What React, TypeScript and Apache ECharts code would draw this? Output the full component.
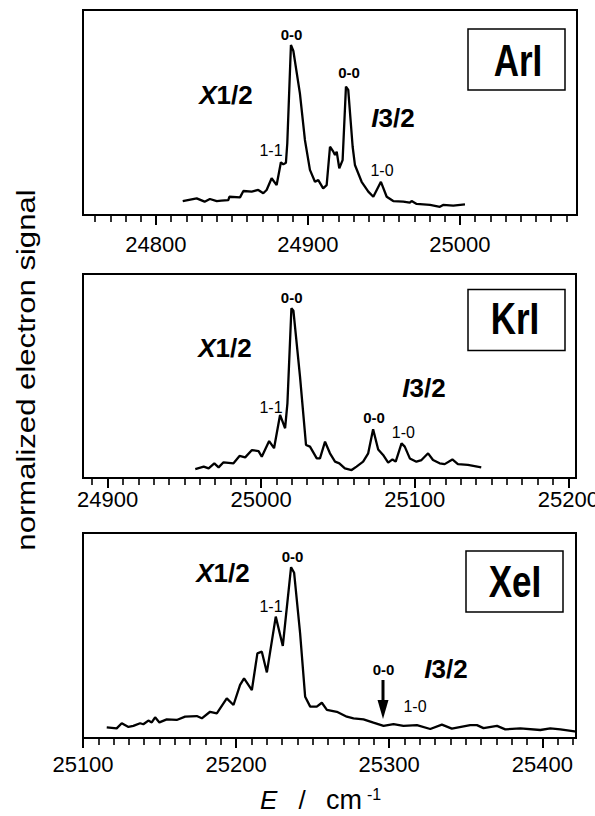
import React, { useEffect, useRef } from "react";
import * as echarts from "echarts";

const FONT = "'Liberation Sans', Arial, Helvetica, sans-serif";

// ---- ArI spectrum ----
const AR_E = [24817.6, 24826.8, 24832, 24835.5, 24840, 24843, 24847.6, 24848.3, 24855.3, 24857.5, 24863, 24867.3, 24870.6, 24872.8, 24876.1, 24879.4, 24882.2, 24883.8, 24885.5, 24886.4, 24888.8, 24890.4, 24894.7, 24898, 24901.3, 24904.6, 24906.8, 24910, 24912.3, 24914.5, 24916.7, 24917.8, 24918.9, 24920.6, 24922.8, 24925, 24926.5, 24929.4, 24930.9, 24935.3, 24939.7, 24943, 24948, 24951.8, 24956.1, 24962.7, 24967, 24968.2, 24971.5, 24980.3, 24986.8, 24988.9, 24995.6, 25003.3];
const AR_S = [6.8, 8.1, 6.5, 7.8, 6.8, 7.0, 7.3, 8.9, 8.6, 11.7, 11.4, 12.2, 10.6, 12.2, 17.9, 14.6, 25.7, 24.7, 25.5, 35, 82.9, 80, 59.3, 36.6, 22, 16.2, 17, 13, 14.6, 33.3, 30.9, 29.3, 30.9, 22.8, 26.8, 62.6, 61, 33.3, 24.4, 16.2, 11.4, 8.9, 16.2, 8.9, 6.8, 6.5, 6, 6.8, 5.4, 4.9, 4, 4.9, 4.6, 5.2];

// ---- KrI spectrum ----
const KR_E = [24957.1, 24962.6, 24965.8, 24969.5, 24972.3, 24975.5, 24982, 24985.9, 24989.6, 24994, 24998.3, 25000.4, 25005.2, 25008.4, 25012.3, 25015.6, 25017.1, 25019.7, 25021, 25025.3, 25029.2, 25031.8, 25036.2, 25038.3, 25041.6, 25044.8, 25048.1, 25050.9, 25054.5, 25058.9, 25062.1, 25066.4, 25069.7, 25072.9, 25076.2, 25079.4, 25082.7, 25085.5, 25087.6, 25091.4, 25093.5, 25096.8, 25101.1, 25104.4, 25108.7, 25111.9, 25116.2, 25119.5, 25124.5, 25128.1, 25134.6, 25143.3];
const KR_S = [4.4, 5.6, 4.7, 7.2, 5.2, 7.7, 7.2, 10.8, 10.1, 13.7, 13.2, 10.4, 18.1, 14.6, 30.9, 24.4, 36.6, 83.2, 82, 49.7, 16.2, 15.4, 9.6, 9.6, 17.8, 12.1, 8, 7.2, 4.7, 3.9, 5.6, 8, 12.1, 23.9, 14, 11.3, 7.5, 9.1, 8, 17, 15.4, 9.6, 8, 8.8, 12.1, 8.8, 7.2, 6.8, 9.1, 6.8, 6.4, 5.2];

// ---- XeI spectrum ----
const XE_E = [25115.5, 25122, 25125.3, 25129.7, 25132.9, 25137.3, 25139.4, 25142.7, 25144.9, 25147.1, 25149.9, 25154.7, 25161.2, 25166.7, 25174.3, 25177.6, 25183, 25187.4, 25193.9, 25198.3, 25202.6, 25205.2, 25210.3, 25213.9, 25216.8, 25220.1, 25225.9, 25230.5, 25235.9, 25237.9, 25241.8, 25245.1, 25248.4, 25252.7, 25256, 25259.3, 25265.8, 25272.3, 25276.7, 25283.2, 25289.7, 25296.3, 25302.8, 25309.3, 25318.1, 25326.8, 25334.4, 25340.9, 25352.9, 25357.3, 25361.6, 25370.4, 25375.8, 25385.6, 25398.7, 25405.2, 25411.8, 25422.2];
const XE_S = [5.2, 4.7, 7.2, 5.4, 5.9, 7.2, 6.7, 8.5, 7.6, 10.1, 7.6, 9.1, 8.8, 10.4, 10.7, 9.6, 12.8, 12, 19.3, 16.1, 25.9, 29.1, 23.4, 41.3, 42.1, 32, 59.2, 44.9, 83.3, 80.6, 51.1, 20.1, 15.3, 15.3, 17.2, 13.7, 12.8, 10.4, 9.6, 9.1, 7.5, 5.9, 6.8, 5.9, 6.3, 4.4, 6.5, 4.6, 6.3, 6.3, 4.8, 5.9, 4.2, 4.7, 3.9, 4.7, 4.2, 3.1];

// ---- axes ----
const X_RANGES = [
  [24752, 25077],
  [24884, 25205],
  [25100, 25422],
];
const MAJOR_TICKS = [
  [24800, 24900, 25000],
  [24900, 25000, 25100, 25200],
  [25100, 25200, 25300, 25400],
];
const MINOR_STEP = 10;
const LABEL_MARGINS = [18, 10, 15];

const GRIDS = [
  { left: 83, top: 10, width: 494, height: 205 },
  { left: 83, top: 274, width: 493, height: 204 },
  { left: 83, top: 533, width: 493, height: 205 },
];

function minorValues(range: number[]) {
  const out: number[] = [];
  const start = Math.ceil(range[0] / MINOR_STEP) * MINOR_STEP;
  for (let v = start; v <= range[1]; v += MINOR_STEP) out.push(v);
  return out;
}

function pairs(xs: number[], ys: number[]) {
  return xs.map((x, i) => [x, ys[i]]);
}

function txt(x: number, y: number, text: string, size: number, bold: boolean, extra: any = {}) {
  return {
    type: "text",
    x,
    y,
    z: 100,
    ...extra,
    style: {
      text,
      fontSize: size,
      fontFamily: FONT,
      fontWeight: bold ? "bold" : "normal",
      fill: "#000",
      align: "center",
      verticalAlign: "middle",
      textAlign: "center",
      textVerticalAlign: "middle",
    },
  };
}

function stateLabel(x: number, y: number, letter: string, rest: string) {
  return {
    type: "text",
    x,
    y,
    z: 100,
    style: {
      text: `{i|${letter}}{b|${rest}}`,
      fontSize: 26,
      fontFamily: FONT,
      fontWeight: "bold",
      fill: "#000",
      align: "center",
      verticalAlign: "middle",
      textAlign: "center",
      textVerticalAlign: "middle",
      rich: {
        i: { fontStyle: "italic", fontWeight: "bold", fontSize: 26, fontFamily: FONT, fill: "#000" },
        b: { fontWeight: "bold", fontSize: 26, fontFamily: FONT, fill: "#000" },
      },
    },
  };
}

function boxLabel(rx: number, ry: number, rw: number, rh: number, cx: number, cy: number, name: string) {
  return [
    {
      type: "rect",
      z: 99,
      shape: { x: rx, y: ry, width: rw, height: rh },
      style: { fill: "#fff", stroke: "#000", lineWidth: 1.5 },
    },
    txt(cx, cy, name, 35, true, { scaleY: 1.25 }),
  ];
}

export default function App() {
  const ref = useRef<HTMLDivElement>(null);

  useEffect(() => {
    if (!ref.current) return;
    const chart = echarts.init(ref.current, undefined, { renderer: "svg" });

    const xAxis: any[] = [];
    X_RANGES.forEach((r, i) => {
      xAxis.push({
        type: "value",
        gridIndex: i,
        position: "bottom",
        min: r[0],
        max: r[1],
        axisLine: { show: true, lineStyle: { color: "#000", width: 2 } },
        axisTick: {
          show: true,
          inside: false,
          length: 10,
          customValues: MAJOR_TICKS[i],
          lineStyle: { color: "#000", width: 2 },
        },
        axisLabel: {
          show: true,
          customValues: MAJOR_TICKS[i],
          margin: LABEL_MARGINS[i],
          color: "#000",
          fontSize: 22,
          fontFamily: FONT,
          formatter: (v: number) => String(v),
        },
        splitLine: { show: false },
      });
    });
    X_RANGES.forEach((r, i) => {
      xAxis.push({
        type: "value",
        gridIndex: i,
        position: "bottom",
        min: r[0],
        max: r[1],
        axisLine: { show: false },
        axisTick: {
          show: true,
          inside: false,
          length: 7,
          customValues: minorValues(r),
          lineStyle: { color: "#000", width: 1.6 },
        },
        axisLabel: { show: false },
        splitLine: { show: false },
      });
    });

    const yAxis = GRIDS.map((_, i) => ({
      type: "value",
      gridIndex: i,
      min: 0,
      max: 100,
      show: false,
    }));

    const lineStyle = { color: "#000", width: 2.3 };
    const series = [
      pairs(AR_E, AR_S),
      pairs(KR_E, KR_S),
      pairs(XE_E, XE_S),
    ].map((data, i) => ({
      type: "line",
      xAxisIndex: i,
      yAxisIndex: i,
      data,
      showSymbol: false,
      symbol: "none",
      lineStyle,
      itemStyle: { color: "#000" },
    }));

    const graphic: any[] = [
      // ArI panel
      txt(291.5, 34, "0-0", 15, true),
      txt(349, 72, "0-0", 15, true),
      stateLabel(226, 95, "X", "1/2"),
      stateLabel(393, 118, "I", "3/2"),
      txt(271, 150, "1-1", 16, false),
      txt(382, 170, "1-0", 16, false),
      ...boxLabel(468, 29, 97, 61, 518, 61, "ArI"),
      // KrI panel
      txt(291.7, 297, "0-0", 15, true),
      stateLabel(225, 348, "X", "1/2"),
      txt(271, 407.5, "1-1", 16, false),
      stateLabel(424, 387.5, "I", "3/2"),
      txt(374, 417.5, "0-0", 15, true),
      txt(403.3, 432.5, "1-0", 16, false),
      ...boxLabel(468, 289.5, 97, 61, 515, 319, "KrI"),
      // XeI panel
      txt(292.5, 556, "0-0", 15, true),
      stateLabel(223, 573.3, "X", "1/2"),
      txt(271, 606, "1-1", 16, false),
      txt(383.5, 669, "0-0", 15, true),
      stateLabel(446, 669, "I", "3/2"),
      txt(415, 706.5, "1-0", 16, false),
      ...boxLabel(466, 551, 97, 61, 515, 582, "XeI"),
      // arrow
      {
        type: "line",
        z: 100,
        shape: { x1: 383, y1: 680, x2: 383, y2: 703 },
        style: { stroke: "#000", lineWidth: 3 },
      },
      {
        type: "polygon",
        z: 100,
        shape: { points: [[377.5, 700], [388.5, 700], [383, 719]] },
        style: { fill: "#000" },
      },
      // y title
      {
        type: "text",
        x: 26,
        y: 370,
        rotation: Math.PI / 2,
        scaleX: 1.22,
        z: 100,
        style: {
          text: "normalized electron signal",
          fontSize: 25.5,
          fontFamily: FONT,
          fill: "#000",
          align: "center",
          verticalAlign: "middle",
          textAlign: "center",
          textVerticalAlign: "middle",
        },
      },
      // x title: E / cm-1
      {
        type: "text",
        x: 260,
        y: 800,
        z: 100,
        style: {
          text: "E",
          fontSize: 26,
          fontStyle: "italic",
          fontFamily: FONT,
          fill: "#000",
          align: "left",
          verticalAlign: "middle",
          textAlign: "left",
          textVerticalAlign: "middle",
        },
      },
      {
        type: "text",
        x: 302,
        y: 800,
        z: 100,
        style: {
          text: "/",
          fontSize: 26,
          fontFamily: FONT,
          fill: "#000",
          align: "center",
          verticalAlign: "middle",
          textAlign: "center",
          textVerticalAlign: "middle",
        },
      },
      {
        type: "text",
        x: 326,
        y: 800,
        z: 100,
        style: {
          text: "cm",
          fontSize: 27,
          fontFamily: FONT,
          fill: "#000",
          align: "left",
          verticalAlign: "middle",
          textAlign: "left",
          textVerticalAlign: "middle",
        },
      },
      {
        type: "text",
        x: 367,
        y: 794,
        z: 100,
        style: {
          text: "-1",
          fontSize: 16,
          fontFamily: FONT,
          fill: "#000",
          align: "left",
          verticalAlign: "middle",
          textAlign: "left",
          textVerticalAlign: "middle",
        },
      },
    ];

    chart.setOption({
      animation: false,
      backgroundColor: "#fff",
      textStyle: { fontFamily: FONT },
      grid: GRIDS.map((g) => ({
        ...g,
        show: true,
        borderColor: "#000",
        borderWidth: 2,
        backgroundColor: "transparent",
        containLabel: false,
        outerBoundsMode: "none",
      })),
      xAxis,
      yAxis,
      series,
      graphic,
    });

    return () => {
      chart.dispose();
    };
  }, []);

  return (
    <div
      ref={ref}
      style={{ position: "fixed", left: 0, top: 0, width: 595, height: 816, background: "#fff" }}
    />
  );
}
